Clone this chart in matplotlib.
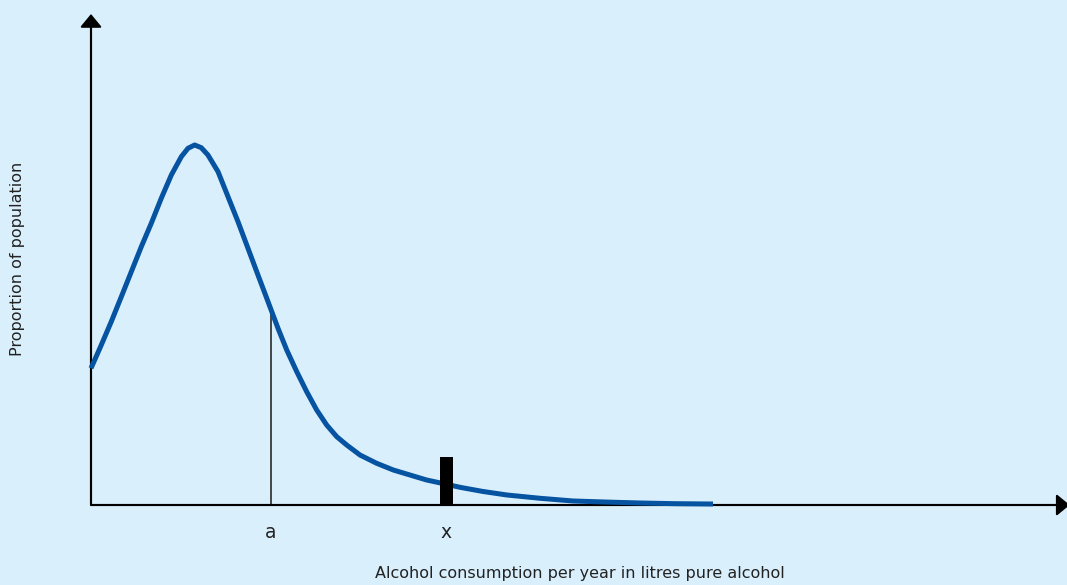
import matplotlib
matplotlib.use("Agg")
import matplotlib.pyplot as plt

# Curve data (x: consumption units, y: proportion units)
curve_x = [0.0, 1.06, 2.09, 3.13, 4.16, 5.19, 6.22, 7.25, 8.29, 9.32, 10.01, 10.70,
           11.38, 12.07, 13.11, 14.14, 15.17, 16.20, 17.23, 18.27, 19.30, 20.20,
           21.23, 22.26, 23.29, 24.32, 25.36, 26.39, 27.76, 29.48, 31.20, 32.92,
           34.64, 36.71, 38.08, 40.45, 42.93, 46.34, 49.74, 53.04, 56.66, 60.27, 64.19]
curve_y = [27.90, 32.65, 37.41, 42.51, 47.61, 52.71, 57.49, 62.59, 67.35, 71.08, 72.80, 73.47,
           72.92, 71.43, 68.02, 62.92, 57.82, 52.39, 46.94, 41.49, 36.06, 31.63,
           27.22, 23.12, 19.39, 16.33, 13.94, 12.24, 10.20, 8.51, 7.14, 6.12,
           5.10, 4.22, 3.61, 2.76, 2.04, 1.37, 0.82, 0.61, 0.41, 0.27, 0.20]

marker_labels = ["a", "x"]
marker_x = [18.58, 36.64]
a_line_height = 39.0
x_bar_height = 9.8

BG = "#daeffc"
CURVE = "#0553a1"
AX = "#2b2b2b"

fig = plt.figure(figsize=(10.67, 5.85), dpi=100, facecolor=BG)
ax = fig.add_axes([0, 0, 1, 1])
ax.set_facecolor(BG)
sx, sy = 9.69, 4.9
ax.set_xlim(-91 / sx, (1067 - 91) / sx)
ax.set_ylim(-80 / sy, 505 / sy)
ax.axis("off")

# axes with arrows
arrow = dict(arrowstyle="-|>,head_length=0.4,head_width=0.33",
             mutation_scale=20, color="black", lw=1.5, shrinkA=0, shrinkB=0)
ax.annotate("", xy=(0, 100.2), xytext=(0, 0), arrowprops=arrow, annotation_clip=False)
ax.annotate("", xy=(101.0, 0), xytext=(0, 0), arrowprops=arrow, annotation_clip=False)
ax.plot([0, 0], [0, 99], color=AX, lw=1.5, solid_capstyle="butt", zorder=2)
ax.plot([0, 100], [0, 0], color=AX, lw=1.5, solid_capstyle="butt", zorder=2)

# vertical line at a and bar at x
ax.plot([marker_x[0], marker_x[0]], [0, a_line_height], color=AX, lw=1.2, zorder=2)
ax.bar([marker_x[1]], [x_bar_height], width=1.34, color="black", zorder=4)

ax.plot(curve_x, curve_y, color=CURVE, lw=3.6, solid_capstyle="butt",
        solid_joinstyle="round", zorder=3)

font = dict(family=["DejaVu Sans"])
for lab, xv in zip(marker_labels, marker_x):
    ax.text(xv, -5.6, lab, ha="center", va="center", fontsize=13.5, color="#222222", **font)

ax.text(50.4, -13.9, "Alcohol consumption per year in litres pure alcohol",
        ha="center", va="center", fontsize=11.5, color="#222222", **font)
ax.text(-73 / sx, 50.2, "Proportion of population", rotation=90,
        ha="center", va="center", fontsize=11.5, color="#222222", **font)

fig.savefig("out.png", dpi=100, facecolor=BG)
